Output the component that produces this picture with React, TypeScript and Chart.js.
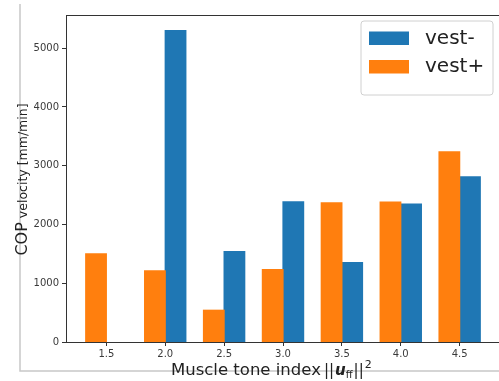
import React, { useEffect, useRef } from "react";
import { Chart, registerables } from "chart.js";

Chart.register(...registerables);

const categories = [1.5, 2.0, 2.5, 3.0, 3.5, 4.0, 4.5];
const vestMinus: (number | null)[] = [null, 5300, 1540, 2386, 1353, 2347, 2812];
const vestPlus = [1500, 1210, 540, 1234, 2369, 2381, 3238];
const xTicks = [1.5, 2.0, 2.5, 3.0, 3.5, 4.0, 4.5];
const yTicks = [0, 1000, 2000, 3000, 4000, 5000];
const seriesLabels = ["vest-", "vest+"];
const seriesColors = ["#1f77b4", "#ff7f0e"];
const xTitle = "Muscle tone index";
const yTitleMain = "COP";
const yTitleRest = " velocity [mm/min]";

const FONT = '"DejaVu Sans", sans-serif';

const decorPlugin = {
  id: "decor",
  beforeDraw(chart: any) {
    const ctx = chart.ctx;
    ctx.save();
    ctx.strokeStyle = "#c8c8c8";
    ctx.lineWidth = 1.5;
    ctx.beginPath();
    ctx.moveTo(20, 4);
    ctx.lineTo(20, 371);
    ctx.lineTo(510, 371);
    ctx.stroke();
    ctx.restore();
  },
  afterDraw(chart: any) {
    const ctx = chart.ctx;
    const a = chart.chartArea;
    ctx.save();
    // spines
    ctx.strokeStyle = "#333";
    ctx.lineWidth = 1;
    ctx.strokeRect(Math.round(a.left) + 0.5, Math.round(a.top) + 0.5, Math.round(a.right - a.left), Math.round(a.bottom - a.top));

    // x title with math part
    ctx.fillStyle = "#222";
    ctx.textBaseline = "alphabetic";
    ctx.textAlign = "left";
    let x = 171;
    const base = 375;
    ctx.font = `16.5px ${FONT}`;
    ctx.fillText(xTitle, x, base);
    x += ctx.measureText(xTitle).width + 3;
    ctx.font = `15px ${FONT}`;
    ctx.fillText("||", x, base);
    x += ctx.measureText("||").width + 1;
    ctx.font = `italic bold 15px ${FONT}`;
    ctx.fillText("u", x, base);
    x += ctx.measureText("u").width;
    ctx.font = `10px ${FONT}`;
    ctx.fillText("ff", x, base + 3);
    x += ctx.measureText("ff").width + 1;
    ctx.font = `15px ${FONT}`;
    ctx.fillText("||", x, base);
    x += ctx.measureText("||").width + 1;
    ctx.font = `11px ${FONT}`;
    ctx.fillText("2", x, base - 7);

    // y title
    ctx.save();
    ctx.font = `16px ${FONT}`;
    const w1 = ctx.measureText(yTitleMain).width;
    ctx.font = `12.5px ${FONT}`;
    const w2 = ctx.measureText(yTitleRest).width;
    const total = w1 + w2;
    const cy = (a.top + a.bottom) / 2 + 1;
    ctx.translate(27, cy + total / 2);
    ctx.rotate(-Math.PI / 2);
    ctx.font = `16px ${FONT}`;
    ctx.fillText(yTitleMain, 0, 0);
    ctx.font = `12.5px ${FONT}`;
    ctx.fillText(yTitleRest, w1, 0);
    ctx.restore();

    // legend
    const lx = 361, ly = 21, lw = 132, lh = 74, r = 3;
    ctx.beginPath();
    ctx.moveTo(lx + r, ly);
    ctx.lineTo(lx + lw - r, ly);
    ctx.quadraticCurveTo(lx + lw, ly, lx + lw, ly + r);
    ctx.lineTo(lx + lw, ly + lh - r);
    ctx.quadraticCurveTo(lx + lw, ly + lh, lx + lw - r, ly + lh);
    ctx.lineTo(lx + r, ly + lh);
    ctx.quadraticCurveTo(lx, ly + lh, lx, ly + lh - r);
    ctx.lineTo(lx, ly + r);
    ctx.quadraticCurveTo(lx, ly, lx + r, ly);
    ctx.closePath();
    ctx.fillStyle = "rgba(255,255,255,0.85)";
    ctx.fill();
    ctx.strokeStyle = "#d0d0d0";
    ctx.lineWidth = 1;
    ctx.stroke();
    const rows = [31.5, 60];
    seriesLabels.forEach((lab, i) => {
      ctx.fillStyle = seriesColors[i];
      ctx.fillRect(369, rows[i], 40, 13.5);
      ctx.fillStyle = "#222";
      ctx.font = `20px ${FONT}`;
      ctx.textBaseline = "middle";
      ctx.fillText(lab, 425, rows[i] + 7);
    });
    ctx.restore();
  },
};

export default function App() {
  const ref = useRef<HTMLCanvasElement>(null);
  useEffect(() => {
    if (!ref.current) return;
    const chart = new Chart(ref.current, {
      type: "bar",
      data: {
        datasets: [
          {
            label: seriesLabels[1],
            data: categories.map((c, i) => ({ x: c, y: vestPlus[i] })),
            backgroundColor: seriesColors[1],
            borderWidth: 0,
            inflateAmount: 0.6,
            categoryPercentage: 0.7,
            barPercentage: 1.0,
          },
          {
            label: seriesLabels[0],
            data: categories.map((c, i) => ({ x: c, y: vestMinus[i] })),
            backgroundColor: seriesColors[0],
            borderWidth: 0,
            inflateAmount: 0.6,
            categoryPercentage: 0.7,
            barPercentage: 1.0,
          },
        ],
      },
      options: {
        animation: false,
        responsive: false,
        devicePixelRatio: 1,
        layout: { padding: { top: 15, right: 10, left: 0, bottom: 0 } },
        plugins: { legend: { display: false }, tooltip: { enabled: false } },
        scales: {
          x: {
            type: "linear",
            offset: false,
            min: 1.1575,
            max: 4.8425,
            afterBuildTicks: (s: any) => {
              s.ticks = xTicks.map((v) => ({ value: v }));
            },
            afterFit: (s: any) => {
              s.height = 39;
            },
            ticks: {
              callback: (v: any) => Number(v).toFixed(1),
              font: { family: FONT, size: 10 },
              color: "#3a3a3a",
              padding: 2,
              maxRotation: 0,
              autoSkip: false,
            },
            grid: { offset: false, drawOnChartArea: false, tickLength: 4, color: "#333" },
            border: { display: false },
          },
          y: {
            min: 0,
            max: 5565,
            afterBuildTicks: (s: any) => {
              s.ticks = yTicks.map((v) => ({ value: v }));
            },
            afterFit: (s: any) => {
              s.width = 66;
            },
            ticks: {
              callback: (v: any) => String(v),
              font: { family: FONT, size: 10 },
              color: "#3a3a3a",
              padding: 3,
            },
            grid: { drawOnChartArea: false, tickLength: 4, color: "#333" },
            border: { display: false },
          },
        },
      },
      plugins: [decorPlugin],
    });
    return () => chart.destroy();
  }, []);
  return (
    <div style={{ position: "fixed", left: 0, top: 0, width: 499, height: 381, overflow: "hidden", background: "#fff" }}>
      <canvas ref={ref} width={510} height={381} style={{ width: 510, height: 381, display: "block" }} />
    </div>
  );
}
